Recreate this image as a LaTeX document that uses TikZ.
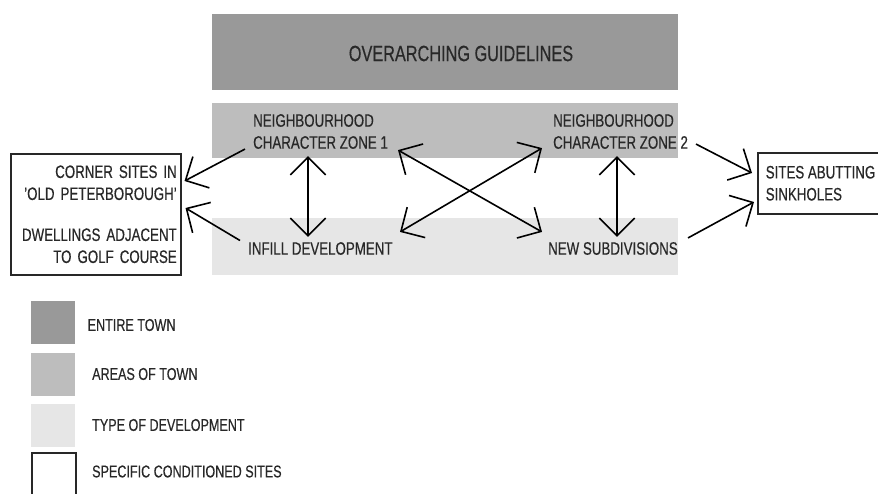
\documentclass[tikz,border=0pt]{standalone}
\usepackage{fontspec}
\setmainfont{Liberation Sans}[FakeStretch=0.74,FakeBold=0.4]
\usetikzlibrary{positioning,arrows.meta,calc}
\definecolor{TownGrey}{RGB}{153,153,153}
\definecolor{AreaGrey}{RGB}{189,189,189}
\definecolor{DevGrey}{RGB}{230,230,230}
\definecolor{InkGrey}{RGB}{40,40,40}

\begin{document}
\begin{tikzpicture}[x=1pt,y=-1pt,
  every node/.style={text=InkGrey, font=\fontsize{18}{22}\selectfont},
  lbl/.style={inner sep=0pt, anchor=west, align=left},
  band/.style={draw=none, anchor=north west, inner sep=0pt},
  sitebox/.style={draw=InkGrey, line width=1.5pt, fill=white},
  link/.style={{Straight Barb[angle=90:25pt]}-{Straight Barb[angle=90:25pt]}, line width=1.6pt, black},
  onelink/.style={-{Straight Barb[angle=90:25pt]}, line width=1.6pt, black},
  key/.style={anchor=north west, inner sep=0pt, minimum width=44pt}]
  \useasboundingbox (0,0) rectangle (878,493);
  \clip (0,0) rectangle (878,493);

  % bands
  \node[band, fill=TownGrey, minimum width=466pt, minimum height=76pt] (town) at (212,14) {};
  \node[band, fill=AreaGrey, minimum width=466pt, minimum height=55pt] (zones) at (212,103) {};
  \node[band, fill=DevGrey, minimum width=466pt, minimum height=57pt] (devs) at (212,218) {};
  \node[font=\fontsize{22}{25}\selectfont, inner sep=0pt] (guide) at (461,53.5) {OVERARCHING GUIDELINES};

  \node[lbl] (nc1) at (253,131.5) {NEIGHBOURHOOD\\CHARACTER ZONE 1};
  \node[lbl] (nc2) at (553,131.5) {NEIGHBOURHOOD\\CHARACTER ZONE 2};
  \node[lbl] (infill) at (248,248.5) {INFILL DEVELOPMENT};
  \node[lbl] (newsub) at (548,248.5) {NEW SUBDIVISIONS};

  % site boxes
  \node[sitebox, anchor=north west, minimum width=170pt, minimum height=121pt, text width=162pt, inner xsep=4pt, align=right] (corner) at (10,153)
    {CORNER SITES IN\\'OLD PETERBOROUGH'\\[19pt]DWELLINGS ADJACENT\\TO GOLF COURSE};
  \node[sitebox, anchor=north west, minimum width=119pt, minimum height=61pt, inner xsep=8pt, align=left] (sink) at (757,152)
    {SITES ABUTTING\\SINKHOLES};

  % connectors
  \draw[onelink] ($(nc1.south west)+(-8,0)$) -- ($(corner.north east)+(3,28)$);
  \draw[onelink] ($(infill.west)+(-8,-8)$) -- ($(corner.north east)+(4,55)$);
  \draw[link] ($(nc1.south west)+(55,7)$) -- ($(infill.north west)+(60,-5)$);
  \draw[link] ($(nc1.south west)+(145,1)$) -- ($(newsub.north west)+(-6,-10)$);
  \draw[link] ($(infill.north west)+(152,-10)$) -- ($(nc2.south west)+(-11,-1)$);
  \draw[link] ($(nc2.south west)+(64,7)$) -- ($(newsub.north west)+(69,-5)$);
  \draw[onelink] ($(nc2.south west)+(143,-5)$) -- ($(sink.north west)+(-5,21)$);
  \draw[onelink] ($(newsub.north west)+(140,-4)$) -- ($(sink.north west)+(-3,50)$);

  % legend
  \node[key, fill=TownGrey, minimum height=43pt] (k1) at (31,301) {};
  \node[key, fill=AreaGrey, minimum height=43pt] (k2) at (31,353) {};
  \node[key, fill=DevGrey, minimum height=43pt] (k3) at (31,404) {};
  \node[key, sitebox, minimum height=60pt] (k4) at (31,452) {};
  \node[lbl, font=\fontsize{17}{20}\selectfont] (t1) at (87.5,325) {ENTIRE TOWN};
  \node[lbl, font=\fontsize{17}{20}\selectfont] (t2) at (92,374) {AREAS OF TOWN};
  \node[lbl, font=\fontsize{17}{20}\selectfont] (t3) at (92,425) {TYPE OF DEVELOPMENT};
  \node[lbl, font=\fontsize{17}{20}\selectfont] (t4) at (92,471.5) {SPECIFIC CONDITIONED SITES};
\end{tikzpicture}
\end{document}
